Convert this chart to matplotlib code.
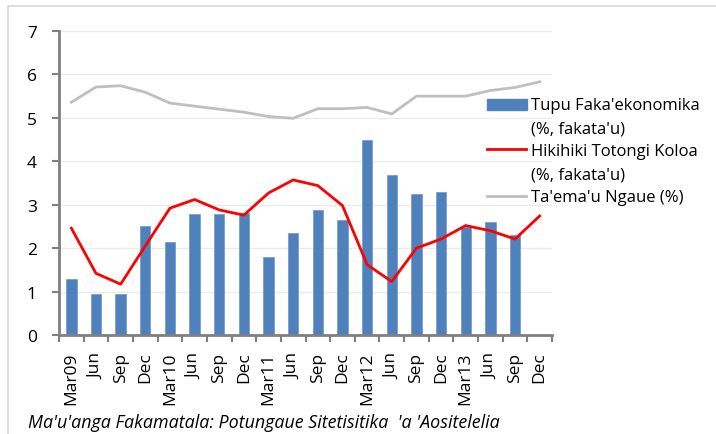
import matplotlib.pyplot as plt
import matplotlib.patches as patches
from matplotlib.lines import Line2D
import numpy as np

plt.rcParams['font.family'] = ['Open Sans', 'DejaVu Sans']

# Data
quarters = ['Mar09', 'Jun', 'Sep', 'Dec', 'Mar10', 'Jun', 'Sep', 'Dec',
            'Mar11', 'Jun', 'Sep', 'Dec', 'Mar12', 'Jun', 'Sep', 'Dec',
            'Mar13', 'Jun', 'Sep', 'Dec']
growth = [1.29, 0.94, 0.94, 2.50, 2.13, 2.79, 2.79, 2.81,
          1.79, 2.34, 2.88, 2.65, 4.48, 3.69, 3.25, 3.29,
          2.49, 2.61, 2.31]
inflation = [2.46, 1.42, 1.17, 2.05, 2.92, 3.12, 2.88, 2.76,
             3.27, 3.57, 3.44, 2.98, 1.62, 1.23, 2.00, 2.21,
             2.52, 2.40, 2.21, 2.74]
unemployment = [5.36, 5.71, 5.74, 5.59, 5.34, 5.27, 5.20, 5.13,
                5.03, 4.99, 5.21, 5.21, 5.24, 5.09, 5.50, 5.50,
                5.50, 5.63, 5.70, 5.83]
series_names = ["Tupu Faka'ekonomika\n(%, fakata'u)",
                "Hikihiki Totongi Koloa\n(%, fakata'u)",
                "Ta'ema'u Ngaue (%)"]

W, H = 716, 435
def fx(px):
    return px / W
def fy(py):
    return 1 - py / H

fig = plt.figure(figsize=(7.16, 4.35), dpi=100)
ax = fig.add_axes([fx(59), fy(336), fx(552) - fx(59), fy(32) - fy(336)])

# outer chart border
fig.patches.append(patches.Rectangle((fx(8), -0.1), 1.2, fy(7) + 0.1,
                                     transform=fig.transFigure, fill=False,
                                     edgecolor='#d9d9d9', lw=1.2))

x = np.arange(len(quarters))
ax.bar(x[:len(growth)], growth, width=0.42, color='#4f81bd',
       edgecolor='#6f97c8', lw=0.5, zorder=2)
ax.plot(x, inflation, color='#ff0000', lw=2.0, zorder=3)
ax.plot(x, unemployment, color='#bfbfbf', lw=2.0, zorder=3)

ax.set_xlim(-0.5, len(quarters) - 0.5)
ax.set_ylim(0, 7)
ax.set_yticks(range(8))
ax.yaxis.grid(True, color='#ebebeb', lw=1)
ax.set_axisbelow(True)

ax.set_xticks(x)
ax.set_xticklabels(quarters, rotation=90, fontsize=12.5)
ax.set_xticks(np.arange(-0.5, len(quarters)), minor=True)
ax.tick_params(axis='x', which='major', length=0, pad=12)
ax.tick_params(axis='x', which='minor', length=5, width=1.5, color='#808080')
ax.tick_params(axis='y', length=5, width=1.5, color='#808080', labelsize=12.5, pad=11)

for s in ['top', 'right']:
    ax.spines[s].set_visible(False)
for s in ['left', 'bottom']:
    ax.spines[s].set_color('#808080')
    ax.spines[s].set_linewidth(2)

# legend drawn by hand to match spacing
fig.patches.append(patches.Rectangle((fx(487), fy(111)), fx(527) - fx(487), fy(100) - fy(111),
                                     transform=fig.transFigure, color='#4f81bd'))
fig.lines.append(Line2D([fx(487), fx(526)], [fy(150), fy(150)],
                        transform=fig.transFigure, color='#ff0000', lw=2.0))
fig.lines.append(Line2D([fx(487), fx(526)], [fy(196.5), fy(196.5)],
                        transform=fig.transFigure, color='#bfbfbf', lw=2.0))
legend_rows = [series_names[0].split('\n')[0], series_names[0].split('\n')[1],
               series_names[1].split('\n')[0], series_names[1].split('\n')[1],
               series_names[2]]
for txt, py in zip(legend_rows, [110.5, 133.5, 156.5, 179.5, 202]):
    fig.text(fx(531), fy(py), txt, fontsize=12, va='baseline', ha='left')

fig.text(fx(28), fy(428),
         "Ma'u'anga Fakamatala: Potungaue Sitetisitika  'a 'Aositelelia",
         fontsize=12.9, style='italic', va='baseline', ha='left')

fig.savefig('out.png', dpi=100)
